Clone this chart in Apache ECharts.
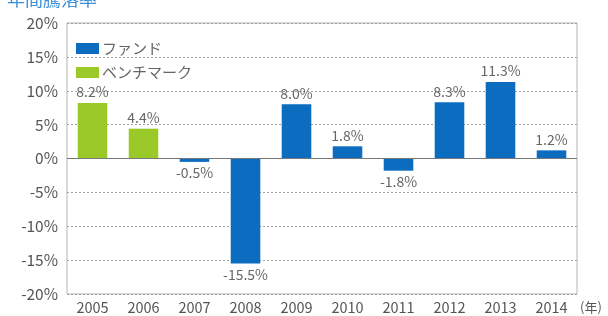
<!DOCTYPE html>
<html>
<head>
<meta charset="utf-8">
<script src="https://cdn.jsdelivr.net/npm/echarts@6/dist/echarts.min.js"></script>
<style>
  html, body { margin: 0; padding: 0; background: #fff; }
  #chart { width: 608px; height: 316px; }
</style>
</head>
<body>
<div id="chart"></div>
<script>
const years = ["2005", "2006", "2007", "2008", "2009", "2010", "2011", "2012", "2013", "2014"];
const benchmark = [8.2, 4.4, null, null, null, null, null, null, null, null];
const fund = [null, null, -0.5, -15.5, 8.0, 1.8, -1.8, 8.3, 11.3, 1.2];
const yTicks = [-20, -15, -10, -5, 0, 5, 10, 15, 20];

const FONT = '"Noto Sans CJK JP", "Noto Sans", sans-serif';
const BLUE = "#0b6cc0";
const GREEN = "#9bc92a";

// 負の値はラベルを棒の下に
function toItems(arr) {
  return arr.map((v) =>
    v == null
      ? "-"
      : { value: v, label: { position: v < 0 ? "bottom" : "top" } }
  );
}

const chart = echarts.init(document.getElementById("chart"));

chart.setOption({
  animation: false,
  textStyle: { fontFamily: FONT },
  title: {
    text: "年間騰落率",
    left: 2,
    top: -15,
    textStyle: { color: "#3d8fd6", fontSize: 18, fontWeight: "normal", fontFamily: FONT },
  },
  legend: {
    orient: "vertical",
    left: 71,
    top: 36,
    itemWidth: 23,
    itemHeight: 11,
    itemGap: 9,
    icon: "rect",
    data: ["ファンド", "ベンチマーク"],
    textStyle: { color: "#666", fontSize: 15, padding: [0, 0, 0, -2] },
  },
  grid: {
    left: 67,
    right: 31,
    top: 23,
    bottom: 22,
    show: true,
    borderColor: "#b5b5b5",
    borderWidth: 1,
  },
  xAxis: {
    type: "category",
    data: years,
    axisLine: { show: false, onZero: false },
    axisTick: { show: false },
    axisLabel: { color: "#555", fontSize: 14.5, margin: 6 },
    name: "(年)",
    nameLocation: "end",
    nameGap: 3,
    nameTextStyle: { color: "#555", fontSize: 13, verticalAlign: "top", padding: [7, 0, 0, 0] },
  },
  yAxis: {
    type: "value",
    min: yTicks[0],
    max: yTicks[yTicks.length - 1],
    interval: 5,
    axisLine: { show: false },
    axisTick: { show: false },
    axisLabel: { color: "#555", fontSize: 15.5, margin: 9, formatter: "{value}%" },
    splitLine: { lineStyle: { color: "#a0a0a0", type: [2, 2], width: 1 } },
  },
  series: [
    {
      name: "ファンド",
      type: "bar",
      stack: "r",
      barWidth: "58%",
      itemStyle: { color: BLUE },
      data: toItems(fund),
      label: {
        show: true,
        color: "#666",
        fontSize: 14,
        distance: 4,
        formatter: (p) => p.value.toFixed(1) + "%",
      },
      markLine: {
        silent: true,
        symbol: "none",
        label: { show: false },
        lineStyle: { color: "#777", type: "solid", width: 1 },
        data: [{ yAxis: 0 }],
      },
    },
    {
      name: "ベンチマーク",
      type: "bar",
      stack: "r",
      barWidth: "58%",
      itemStyle: { color: GREEN },
      data: toItems(benchmark),
      label: {
        show: true,
        color: "#666",
        fontSize: 14,
        distance: 4,
        formatter: (p) => p.value.toFixed(1) + "%",
      },
    },
  ],
});
</script>
</body>
</html>
